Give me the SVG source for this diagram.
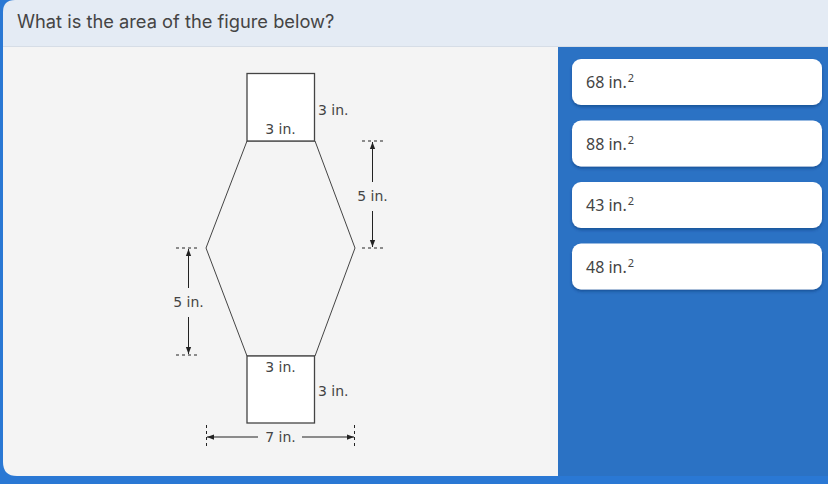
<svg xmlns="http://www.w3.org/2000/svg" width="828" height="484" viewBox="0 0 828 484">
<style>
.lbl{font-family:"DejaVu Sans","Noto Sans",sans-serif;font-size:14px;fill:#444}
.ans{font-family:"Noto Sans","Open Sans",sans-serif;font-size:16px;fill:#444}
.sup{font-family:"Noto Sans","Open Sans",sans-serif;font-size:11px;fill:#444}
.shape{fill:#fff;stroke:#444;stroke-width:1.3}
.outline{fill:none;stroke:#444;stroke-width:1}
.dim{stroke:#222;stroke-width:1;fill:none}
.tick{stroke:#222;stroke-width:1;stroke-dasharray:3,3;fill:none}
.box{fill:#fff}
</style>
<defs>
<marker id="ah" viewBox="0 0 8 8" refX="8" refY="4" markerWidth="7" markerHeight="7" orient="auto-start-reverse" markerUnits="userSpaceOnUse">
<path d="M0,1 L8,4 L0,7 Z" fill="#222"/>
</marker>
<filter id="sh" x="-5%" y="-10%" width="110%" height="130%">
<feDropShadow dx="0" dy="2" stdDeviation="1.5" flood-color="#0a2f66" flood-opacity="0.45"/>
</filter>
</defs>
<rect x="0" y="0" width="828" height="484" fill="#2a78d4"/>
<rect x="558" y="46" width="270" height="430" fill="#2b72c4"/>
<path d="M3,46 H558 V476 H17 Q3,476 3,462 Z" fill="#f4f4f4"/>
<path d="M3,12 Q3,0 15,0 H828 V46 H3 Z" fill="#e4ebf4"/>
<line x1="3" y1="46.5" x2="828" y2="46.5" stroke="#d6dde6" stroke-width="1"/>
<text x="17" y="28" font-family="Inter,'Noto Sans',sans-serif" font-size="18.3" fill="#444">What is the area of the figure below?</text>

<g id="figure">
<polygon class="outline" points="247,141 315,141 355,248 315,356 247,356 206,248"/>
<rect id="top-square" class="shape" x="247" y="73.5" width="67.5" height="67.5"/>
<rect id="bottom-square" class="shape" x="247" y="356" width="67.5" height="67"/>
<text class="lbl" x="280.5" y="134" text-anchor="middle">3 in.</text>
<text class="lbl" x="318" y="115">3 in.</text>
<text class="lbl" x="280.5" y="372" text-anchor="middle">3 in.</text>
<text class="lbl" x="318" y="396">3 in.</text>
</g>

<g id="connectors">
<line class="tick" x1="362" y1="141" x2="384" y2="141"/>
<line class="tick" x1="362" y1="248" x2="384" y2="248"/>
<line class="dim" x1="372.5" y1="182" x2="372.5" y2="142" marker-end="url(#ah)"/>
<line class="dim" x1="372.5" y1="211" x2="372.5" y2="247" marker-end="url(#ah)"/>
<text class="lbl" x="372.5" y="201" text-anchor="middle">5 in.</text>

<line class="tick" x1="176" y1="248" x2="200" y2="248"/>
<line class="tick" x1="176" y1="355" x2="200" y2="355"/>
<line class="dim" x1="188.5" y1="288" x2="188.5" y2="249" marker-end="url(#ah)"/>
<line class="dim" x1="188.5" y1="317" x2="188.5" y2="354" marker-end="url(#ah)"/>
<text class="lbl" x="188.5" y="307" text-anchor="middle">5 in.</text>

<line class="tick" x1="206.5" y1="425" x2="206.5" y2="449"/>
<line class="tick" x1="354.5" y1="425" x2="354.5" y2="449"/>
<line class="dim" x1="258" y1="437" x2="207" y2="437" marker-end="url(#ah)"/>
<line class="dim" x1="302" y1="437" x2="354" y2="437" marker-end="url(#ah)"/>
<text class="lbl" x="280.5" y="442" text-anchor="middle">7 in.</text>
</g>

<g id="answer-1">
<rect class="box" filter="url(#sh)" x="572" y="59" width="250" height="46" rx="9"/>
<text class="ans" x="586" y="88">68 in.<tspan class="sup" dx="1" dy="-6">2</tspan></text>
</g>
<g id="answer-2">
<rect class="box" filter="url(#sh)" x="572" y="120.5" width="250" height="46" rx="9"/>
<text class="ans" x="586" y="149.5">88 in.<tspan class="sup" dx="1" dy="-6">2</tspan></text>
</g>
<g id="answer-3">
<rect class="box" filter="url(#sh)" x="572" y="182" width="250" height="46" rx="9"/>
<text class="ans" x="586" y="211">43 in.<tspan class="sup" dx="1" dy="-6">2</tspan></text>
</g>
<g id="answer-4">
<rect class="box" filter="url(#sh)" x="572" y="243.5" width="250" height="46" rx="9"/>
<text class="ans" x="586" y="272.5">48 in.<tspan class="sup" dx="1" dy="-6">2</tspan></text>
</g>
</svg>
